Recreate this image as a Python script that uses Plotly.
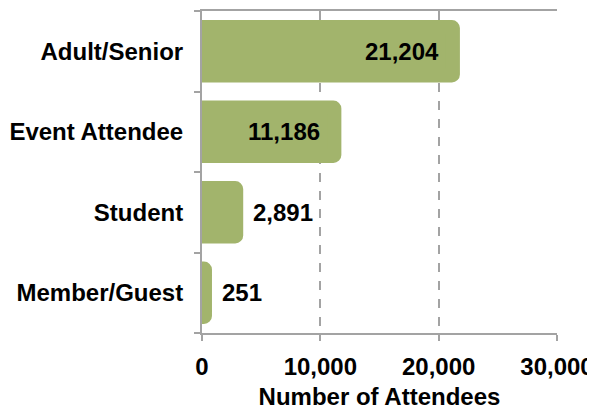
import plotly.graph_objects as go

categories = ["Adult/Senior", "Event Attendee", "Student", "Member/Guest"]
attendees = [21204, 11186, 2891, 251]
inside_threshold = 5000

x_tickvals = [0, 10000, 20000, 30000]
x_ticktext = ["0", "10,000", "20,000", "30,000"]

FONT = "Liberation Sans, Arial, Helvetica, sans-serif"
BAR_COLOR = "#A2B46C"
AXIS_COLOR = "#A3A3A3"
FS = 24

fig = go.Figure()
fig.add_trace(go.Bar(
    x=attendees,
    y=categories,
    orientation="h",
    marker=dict(color=BAR_COLOR, line=dict(width=14, color=BAR_COLOR), cornerradius=1),
    width=0.6,
    hoverinfo="skip",
))

for cat, val in zip(categories, attendees):
    inside = val > inside_threshold
    fig.add_annotation(
        x=val, y=cat, xref="x", yref="y",
        text=f"<b>{val:,}</b>",
        showarrow=False,
        xanchor="right" if inside else "left",
        xshift=-12 if inside else 15,
        yshift=0,
        font=dict(family=FONT, size=FS, color="black"),
    )

fig.update_layout(
    width=587, height=402,
    margin=dict(l=194, r=38, t=3, b=77),
    paper_bgcolor="white",
    plot_bgcolor="white",
    showlegend=False,
    font=dict(family=FONT, size=FS, color="black"),
)

fig.update_xaxes(
    range=[0, 30000],
    automargin=False,
    tickvals=x_tickvals,
    ticktext=[f"<b>{t}</b>" for t in x_ticktext],
    showgrid=True,
    gridcolor=AXIS_COLOR,
    griddash="dash",
    gridwidth=1.5,
    showline=True,
    linecolor=AXIS_COLOR,
    linewidth=2,
    mirror=True,
    ticks="outside",
    ticklen=6,
    tickwidth=1.5,
    tickcolor=AXIS_COLOR,
    ticklabelstandoff=5,
    zeroline=False,
    title=dict(text="<b>Number of Attendees</b>", font=dict(family=FONT, size=FS), standoff=12),
    tickfont=dict(family=FONT, size=FS, color="black"),
)

fig.update_yaxes(
    automargin=False,
    categoryorder="array",
    categoryarray=categories,
    autorange="reversed",
    tickvals=categories,
    ticktext=[f"<b>{c}</b>" for c in categories],
    tickson="boundaries",
    showgrid=False,
    showline=True,
    linecolor=AXIS_COLOR,
    linewidth=2,
    ticks="outside",
    ticklen=6,
    tickwidth=1.5,
    tickcolor=AXIS_COLOR,
    ticklabelstandoff=12,
    tickfont=dict(family=FONT, size=FS, color="black"),
)

fig.write_html("out.html")
